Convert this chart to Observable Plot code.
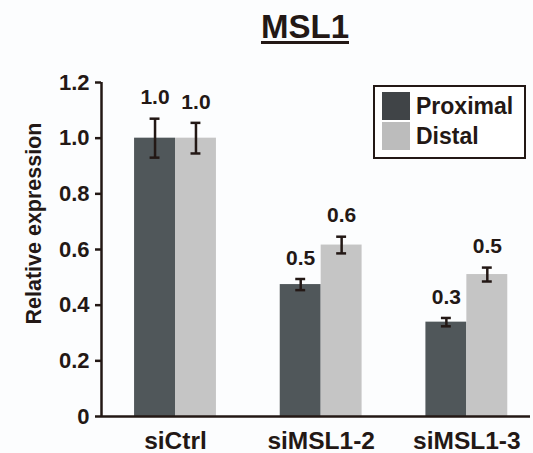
<!DOCTYPE html>
<html>
<head>
<meta charset="utf-8">
<script src="https://cdn.jsdelivr.net/npm/d3@7"></script>
<script src="https://cdn.jsdelivr.net/npm/@observablehq/plot@0.6"></script>
<style>
  html, body { margin: 0; padding: 0; background: #fcfdfe; }
  #wrap { position: relative; width: 533px; height: 453px; font-family: "Liberation Sans", Arial, sans-serif; color: #231815; }
  #title { box-sizing: border-box; width: 533px; height: 55px; padding-left: 77px; padding-top: 10px; text-align: center;
           font-size: 33px; font-weight: bold; line-height: 33px; }
  #title span { text-decoration: underline; text-decoration-thickness: 3px; text-underline-offset: 3px; }
  #legend { position: absolute; left: 373px; top: 85px; width: 149px; height: 70px; border: 2.5px solid #231815; background: #fff; }
  .item { position: absolute; left: 7px; height: 28px; display: flex; align-items: center; font-size: 23px; font-weight: bold; }
  .sw { width: 28px; height: 28px; margin-right: 6px; }
</style>
</head>
<body>
<div id="wrap">
  <div id="title"><span>MSL1</span></div>
  <div id="chart"></div>
  <div id="legend"></div>
</div>
<script>
const title = "MSL1";
const yLabel = "Relative expression";
const categories = ["siCtrl", "siMSL1-2", "siMSL1-3"];
const series = ["Proximal", "Distal"];
const proximal = [1.0, 0.474, 0.339];
const proximalErr = [0.07, 0.02, 0.015];
const distal = [1.0, 0.616, 0.51];
const distalErr = [0.055, 0.03, 0.025];
const yTicks = [0, 0.2, 0.4, 0.6, 0.8, 1.0, 1.2];
const colors = ["#50575a", "#c5c5c5"];
const legendColors = ["#404447", "#bcbcbc"];

const ink = "#231815";
const barW = 0.281;   // bar width in category units
const capHalf = 0.034;
const xDomain = [-0.508, 2.437];

const rows = [];
categories.forEach((c, i) => {
  rows.push({cat: c, i, s: series[0], k: 0, v: proximal[i], e: proximalErr[i]});
  rows.push({cat: c, i, s: series[1], k: 1, v: distal[i], e: distalErr[i]});
});
const cx = d => d.i + (d.k === 0 ? -barW / 2 : barW / 2);

const font = {fontFamily: "Liberation Sans, Arial, sans-serif", fontWeight: "bold", fill: ink};

const plot = Plot.plot({
  width: 533,
  height: 398,
  marginLeft: 101,
  marginRight: 3,
  marginTop: 27,
  marginBottom: 37,
  style: {background: "transparent", color: ink, fontFamily: "Liberation Sans, Arial, sans-serif", overflow: "visible"},
  x: {type: "linear", domain: xDomain, axis: null},
  y: {domain: [0, 1.2], axis: null},
  marks: [
    Plot.rectY(rows, {
      x1: d => d.i + (d.k === 0 ? -barW : 0),
      x2: d => d.i + (d.k === 0 ? 0 : barW),
      y1: 0, y2: "v",
      fill: d => colors[d.k]
    }),
    Plot.ruleX(rows, {x: cx, y1: d => d.v - d.e, y2: d => d.v + d.e, stroke: ink, strokeWidth: 2.5}),
    Plot.ruleY(rows, {x1: d => cx(d) - capHalf, x2: d => cx(d) + capHalf, y: d => d.v + d.e, stroke: ink, strokeWidth: 2.5}),
    Plot.ruleY(rows, {x1: d => cx(d) - capHalf, x2: d => cx(d) + capHalf, y: d => d.v - d.e, stroke: ink, strokeWidth: 2.5}),
    Plot.text(rows, {x: cx, y: d => d.v + d.e, dy: -21, text: d => d.v.toFixed(1), fontSize: 21, ...font}),
    Plot.ruleY([0], {stroke: ink, strokeWidth: 2.5}),
    Plot.ruleX([xDomain[0]], {y1: 0, y2: 1.2, stroke: ink, strokeWidth: 2.5}),
    Plot.axisY({ticks: yTicks, tickSize: 6, tickPadding: 6, strokeWidth: 2.5, stroke: ink,
      tickFormat: d => d === 0 ? "0" : d.toFixed(1), fontSize: 22, fontWeight: "bold", fill: ink, label: null}),
    Plot.axisX({ticks: [0, 1, 2], tickSize: 0, tickPadding: 15, tickFormat: i => categories[i],
      fontSize: 24.5, fontWeight: "bold", fill: ink, label: null}),
    Plot.text([yLabel], {frameAnchor: "left", textAnchor: "middle", lineAnchor: "middle", rotate: -90, dx: -67, dy: -26, fontSize: 21.5, ...font})
  ]
});
document.getElementById("chart").appendChild(plot);

const legend = document.getElementById("legend");
series.forEach((s, k) => {
  const it = document.createElement("div");
  it.className = "item";
  it.style.top = (5 + k * 30) + "px";
  const sw = document.createElement("div");
  sw.className = "sw";
  sw.style.background = legendColors[k];
  it.appendChild(sw);
  it.appendChild(document.createTextNode(s));
  legend.appendChild(it);
});
</script>
</body>
</html>
